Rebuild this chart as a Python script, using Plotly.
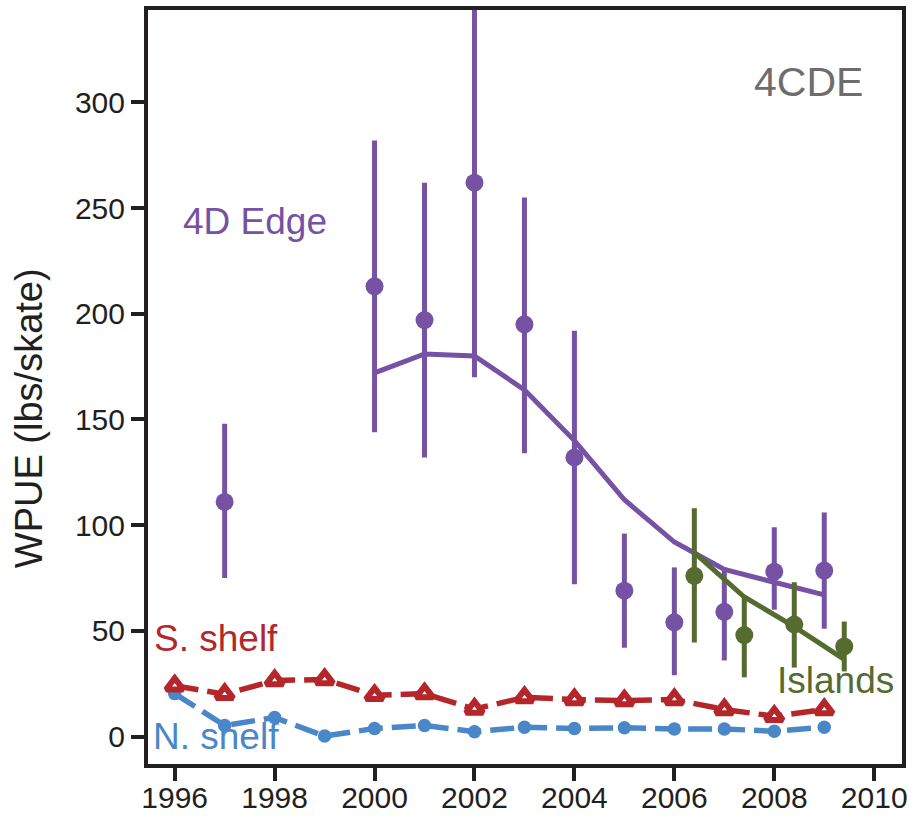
import plotly.graph_objects as go

# ---- data ----
edge_years = [1997, 2000, 2001, 2002, 2003, 2004, 2005, 2006, 2007, 2008, 2009]
edge_mean = [111, 213, 197, 262, 195, 132, 69, 54, 59, 78, 78.5]
edge_lo = [75, 144, 132, 170, 134, 72, 42, 29, 36, 60, 51]
edge_hi = [148, 282, 262, 360, 255, 192, 96, 80, 80, 99, 106]

edge_fit_years = [2000, 2001, 2002, 2003, 2004, 2005, 2006, 2007, 2008, 2009]
edge_fit = [172, 181, 180, 164, 140, 112, 92, 79, 73, 67]

isl_years = [2006.4, 2007.4, 2008.4, 2009.4]
isl_mean = [76, 48, 53, 42.6]
isl_lo = [44.5, 28, 32.6, 30.8]
isl_hi = [108, 66, 73, 54.4]
isl_fit = [87, 66, 52, 36.5]

shelf_years = list(range(1996, 2010))
s_shelf = [24, 20, 26.5, 27, 19.5, 20.3, 13, 18.5, 17.5, 17, 17.5, 12.8, 9.6, 12.8]
n_shelf = [20.3, 5.2, 9, 0.2, 3.8, 5.2, 2.3, 4.4, 3.8, 4.1, 3.6, 3.6, 2.5, 4.4]

x_ticks = [1996, 1998, 2000, 2002, 2004, 2006, 2008, 2010]
y_ticks = [0, 50, 100, 150, 200, 250, 300]

# ---- colours ----
PURPLE = "#7552A3"
GREEN = "#556B30"
RED = "#B5262B"
BLUE = "#4A87C8"
INK = "#231F20"

fig = go.Figure()

# 4D Edge fit line
fig.add_trace(go.Scatter(x=edge_fit_years, y=edge_fit, mode="lines",
                         line=dict(color=PURPLE, width=5), showlegend=False))
# 4D Edge points with error bars
fig.add_trace(go.Scatter(
    x=edge_years, y=edge_mean, mode="markers",
    marker=dict(color=PURPLE, size=18),
    error_y=dict(type="data", symmetric=False,
                 array=[h - m for h, m in zip(edge_hi, edge_mean)],
                 arrayminus=[m - l for m, l in zip(edge_mean, edge_lo)],
                 color=PURPLE, thickness=5, width=0),
    showlegend=False))

# Islands fit line
fig.add_trace(go.Scatter(x=isl_years, y=isl_fit, mode="lines",
                         line=dict(color=GREEN, width=5), showlegend=False))
fig.add_trace(go.Scatter(
    x=isl_years, y=isl_mean, mode="markers",
    marker=dict(color=GREEN, size=18),
    error_y=dict(type="data", symmetric=False,
                 array=[h - m for h, m in zip(isl_hi, isl_mean)],
                 arrayminus=[m - l for m, l in zip(isl_mean, isl_lo)],
                 color=GREEN, thickness=5, width=0),
    showlegend=False))

# N. shelf
fig.add_trace(go.Scatter(x=shelf_years, y=n_shelf, mode="lines+markers",
                         line=dict(color=BLUE, width=5.5, dash="24px,9px"),
                         marker=dict(color=BLUE, size=13.5),
                         showlegend=False))
# S. shelf
fig.add_trace(go.Scatter(x=shelf_years, y=s_shelf, mode="lines+markers",
                         line=dict(color=RED, width=5.5, dash="24px,9px"),
                         marker=dict(symbol="triangle-up", color="white", size=15,
                                     line=dict(color=RED, width=6)),
                         showlegend=False))

font_main = "Liberation Sans, Arial, sans-serif"

annotations = [
    dict(x=2008.68, y=309.5, text="4CDE", font=dict(size=41, color="#6D6D6D")),
    dict(x=1997.61, y=243.7, text="4D Edge", font=dict(size=37, color=PURPLE)),
    dict(x=1996.83, y=46.4, text="S. shelf", font=dict(size=37, color=RED)),
    dict(x=1996.83, y=0, text="N. shelf", font=dict(size=37, color=BLUE)),
    dict(x=2009.23, y=26.5, text="Islands", font=dict(size=37, color=GREEN)),
]
for a in annotations:
    a.update(xref="x", yref="y", showarrow=False, xanchor="center", yanchor="middle")
    a["font"]["family"] = font_main

# y-axis title as rotated annotation
annotations.append(dict(
    xref="paper", yref="paper", x=0, y=0.4586, xshift=-119,
    text="WPUE (lbs/skate)", textangle=-90, showarrow=False,
    xanchor="center", yanchor="middle",
    font=dict(size=38, color=INK, family=font_main)))

fig.update_layout(
    width=915, height=818,
    margin=dict(l=148, r=12.5, t=9.5, b=54, autoexpand=False),
    paper_bgcolor="white", plot_bgcolor="white",
    font=dict(family=font_main, color=INK, size=30),
    annotations=annotations,
    xaxis=dict(range=[1995.466, 2010.556], tickvals=x_ticks,
               ticktext=[str(t) for t in x_ticks], automargin=False,
               showgrid=False, zeroline=False, showline=True, mirror=True,
               linecolor=INK, linewidth=4, ticks="outside", ticklen=13,
               ticklabelstandoff=-9,
               tickwidth=4, tickcolor=INK, tickfont=dict(size=30, color=INK)),
    yaxis=dict(range=[-13.0, 343.7], tickvals=y_ticks, automargin=False,
               showgrid=False, zeroline=False, showline=True, mirror=True,
               linecolor=INK, linewidth=4, ticks="outside", ticklen=13,
               tickwidth=4, tickcolor=INK, tickfont=dict(size=30, color=INK)),
)

fig.write_html("out.html")
